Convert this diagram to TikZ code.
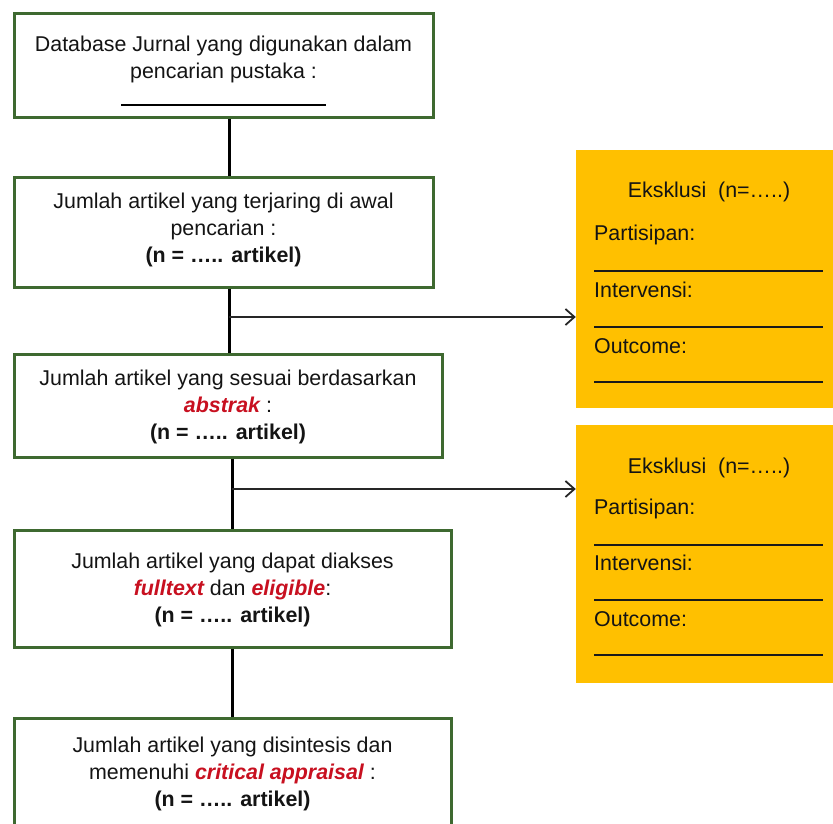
\documentclass[tikz,border=0pt]{standalone}
\usepackage{fontspec}
\setmainfont{Liberation Sans}
\usetikzlibrary{arrows.meta}
\definecolor{boxgreen}{RGB}{62,105,48}
\definecolor{exyellow}{RGB}{255,192,0}
\definecolor{emred}{RGB}{200,16,32}
\definecolor{txt}{RGB}{20,20,20}
\newcommand{\emr}[1]{\textcolor{emred}{\bfseries\itshape #1}}
\begin{document}
\begin{tikzpicture}[x=1pt,y=-1pt,
  flowbox/.style={draw=boxgreen, line width=3pt, fill=white, text=txt, align=center, inner sep=0pt},
  exbox/.style={fill=exyellow, draw=none, inner sep=0pt},
  lbl/.style={text=txt, inner sep=0pt, font=\fontsize{21.4}{27}\selectfont},
  conn/.style={line width=3pt, black},
  exarrow/.style={line width=1.8pt, black!85, -{Straight Barb[length=9pt,width=16pt,line width=1.8pt]}},
  uline/.style={line width=1.5pt, black!90}
]
\useasboundingbox (0,0) rectangle (833,824);
\clip (0,0) rectangle (833,824);
% flow boxes
\node[flowbox, minimum width=419pt, minimum height=104pt] (b1) at (223.5,66) {};
\node[lbl, align=center] (t1) at (223.5,59) {Database Jurnal yang digunakan dalam\\pencarian pustaka :};
\coordinate (u1a) at (121,105);
\coordinate (u1b) at (326,105);
\draw[line width=1.5pt, black] (u1a) -- (u1b);

\node[flowbox, minimum width=419pt, minimum height=109pt] (b2) at (223.5,232.5) {};
\node[lbl, align=center] (t2) at (223.5,230) {Jumlah artikel yang terjaring di awal\\pencarian :\\\textbf{(n = ….. artikel)}};

\node[flowbox, minimum width=428pt, minimum height=103pt] (b3) at (228,405.5) {};
\node[lbl, align=center] (t3) at (228,407) {Jumlah artikel yang sesuai berdasarkan\\\emr{abstrak} :\\\textbf{(n = ….. artikel)}};

\node[flowbox, minimum width=437pt, minimum height=117pt] (b4) at (232.5,588.5) {};
\node[lbl, align=center] (t4) at (232.5,589.5) {Jumlah artikel yang dapat diakses\\\emr{fulltext} dan \emr{eligible}:\\\textbf{(n = ….. artikel)}};

\node[flowbox, minimum width=437pt, minimum height=130pt] (b5) at (232.5,783) {};
\node[lbl, align=center] (t5) at (232.5,774) {Jumlah artikel yang disintesis dan\\memenuhi \emr{critical appraisal} :\\\textbf{(n = ….. artikel)}};

% exclusion boxes
\node[exbox, minimum width=270pt, minimum height=258pt] (e1) at (711,279) {};
\node[exbox, minimum width=270pt, minimum height=258pt] (e2) at (711,554) {};

\node[lbl] (e1h) at (709,192) {Eksklusi\ \ (n=…..)};
\node[lbl, anchor=west] (e1p) at (594,235) {Partisipan:};
\node[lbl, anchor=west] (e1i) at (594,290) {Intervensi:};
\node[lbl, anchor=west] (e1o) at (594,346) {Outcome:};
\coordinate (e1l1a) at (594,271); \coordinate (e1l1b) at (823,271);
\coordinate (e1l2a) at (594,327); \coordinate (e1l2b) at (823,327);
\coordinate (e1l3a) at (594,382); \coordinate (e1l3b) at (823,382);
\draw[uline] (e1l1a) -- (e1l1b);
\draw[uline] (e1l2a) -- (e1l2b);
\draw[uline] (e1l3a) -- (e1l3b);

\node[lbl] (e2h) at (709,468) {Eksklusi\ \ (n=…..)};
\node[lbl, anchor=west] (e2p) at (594,509) {Partisipan:};
\node[lbl, anchor=west] (e2i) at (594,563) {Intervensi:};
\node[lbl, anchor=west] (e2o) at (594,619) {Outcome:};
\coordinate (e2l1a) at (594,545); \coordinate (e2l1b) at (823,545);
\coordinate (e2l2a) at (594,600); \coordinate (e2l2b) at (823,600);
\coordinate (e2l3a) at (594,655); \coordinate (e2l3b) at (823,655);
\draw[uline] (e2l1a) -- (e2l1b);
\draw[uline] (e2l2a) -- (e2l2b);
\draw[uline] (e2l3a) -- (e2l3b);

% connectors
\coordinate (x1) at (229,0);
\coordinate (x2) at (232,0);
\coordinate (j1) at (229,317);
\coordinate (j2) at (232,489);
\draw[conn] (b1.south -| x1) -- (b2.north -| x1);
\draw[conn] (b2.south -| x1) -- (b3.north -| x1);
\draw[conn] (b3.south -| x2) -- (b4.north -| x2);
\draw[conn] (b4.south -| x2) -- (b5.north -| x2);
\draw[exarrow] (j1) -- (j1 -| e1.west);
\draw[exarrow] (j2) -- (j2 -| e2.west);
\end{tikzpicture}
\end{document}
